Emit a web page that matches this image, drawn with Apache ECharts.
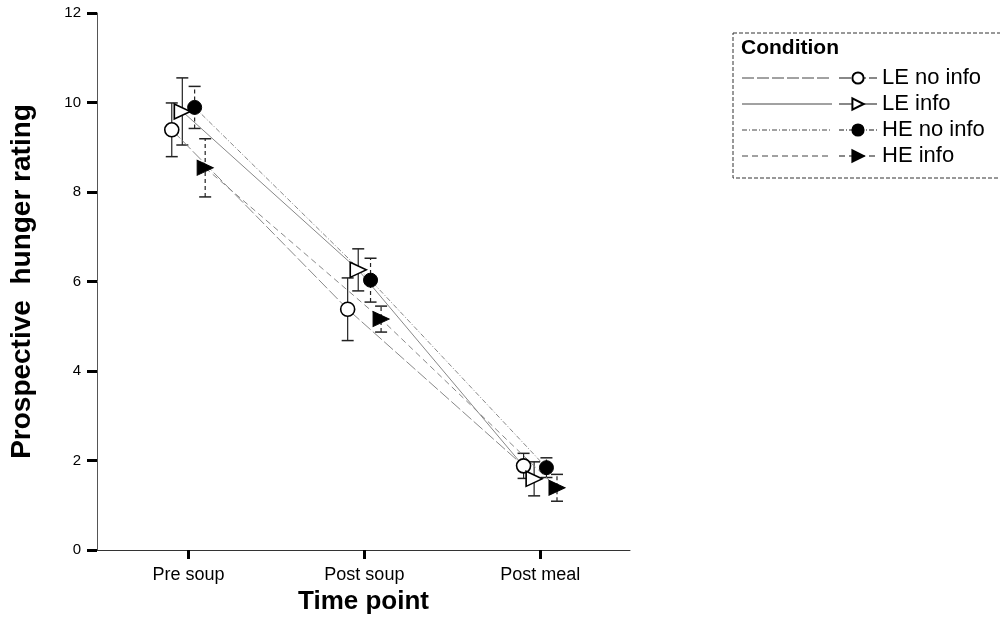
<!DOCTYPE html>
<html>
<head>
<meta charset="utf-8">
<script src="https://cdn.jsdelivr.net/npm/echarts@6/dist/echarts.min.js"></script>
<style>
html,body{margin:0;padding:0;background:#fff;}
#chart{width:1000px;height:640px;}
</style>
</head>
<body>
<div id="chart"></div>
<script>
// ---- data ----
const categories = ['Pre soup', 'Post soup', 'Post meal'];
const seriesNames = ['LE no info', 'LE info', 'HE no info', 'HE info'];
const leNoInfo = [9.39, 5.38, 1.88];
const leNoInfoErr = [0.60, 0.70, 0.28];
const leInfo = [9.80, 6.26, 1.59];
const leInfoErr = [0.75, 0.47, 0.38];
const heNoInfo = [9.89, 6.03, 1.84];
const heNoInfoErr = [0.47, 0.49, 0.22];
const heInfo = [8.54, 5.16, 1.39];
const heInfoErr = [0.65, 0.29, 0.30];
const yTicks = [0, 2, 4, 6, 8, 10, 12];

// ---- styles ----
const means = [leNoInfo, leInfo, heNoInfo, heInfo];
const errs = [leNoInfoErr, leInfoErr, heNoInfoErr, heInfoErr];
const dodge = [-0.095, -0.035, 0.035, 0.095];
const lineTypes = [[12, 3], 'solid', [5, 2, 1, 2], [6, 4]];
const errTypes = ['solid', 'solid', [4, 3], [4, 3]];
const symbols = ['circle', 'triangle', 'circle', 'triangle'];
const filled = [false, false, true, true];
const FONT = 'Liberation Sans, Arial, sans-serif';

const chart = echarts.init(document.getElementById('chart'));
const series = [];

seriesNames.forEach((name, i) => {
  const pts = means[i].map((v, j) => [j + 1 + dodge[i], v]);
  const bars = means[i].map((v, j) => [j + 1 + dodge[i], v - errs[i][j], v + errs[i][j]]);
  series.push({
    type: 'custom',
    name: name + ' err',
    data: bars,
    z: 2,
    silent: true,
    renderItem: function (params, api) {
      const x = api.value(0);
      const lo = api.coord([x, api.value(1)]);
      const hi = api.coord([x, api.value(2)]);
      const cap = 6;
      const st = { stroke: '#222', lineWidth: 1.2, lineDash: errTypes[i] === 'solid' ? null : errTypes[i] };
      return {
        type: 'group',
        children: [
          { type: 'line', shape: { x1: lo[0], y1: lo[1], x2: hi[0], y2: hi[1] }, style: st },
          { type: 'line', shape: { x1: lo[0] - cap, y1: lo[1], x2: lo[0] + cap, y2: lo[1] }, style: { stroke: '#222', lineWidth: 1.5 } },
          { type: 'line', shape: { x1: hi[0] - cap, y1: hi[1], x2: hi[0] + cap, y2: hi[1] }, style: { stroke: '#222', lineWidth: 1.5 } }
        ]
      };
    }
  });
  series.push({
    type: 'line',
    name: name,
    data: pts,
    z: 5,
    symbol: symbols[i],
    symbolSize: symbols[i] === 'circle' ? 14 : [15, 16],
    symbolRotate: symbols[i] === 'triangle' ? -90 : 0,
    showAllSymbol: true,
    lineStyle: { color: '#888', width: 1, type: lineTypes[i] },
    itemStyle: filled[i]
      ? { color: '#000', borderColor: '#000', borderWidth: 1 }
      : { color: '#fff', borderColor: '#000', borderWidth: 1.6 },
    emphasis: { disabled: true }
  });
});

// legend long line samples (decoration)
const legendY = [78, 104, 130, 156];
const legendGraphics = legendY.map((y, i) => ({
  type: 'line',
  shape: { x1: 742, y1: y, x2: 832, y2: y },
  style: { stroke: '#444', lineWidth: 1, lineDash: lineTypes[i] === 'solid' ? null : lineTypes[i] }
}));

chart.setOption({
  animation: false,
  backgroundColor: '#fff',
  grid: { left: 97, right: 370, top: 13, bottom: 90, containLabel: false },
  xAxis: {
    type: 'value',
    min: 0.48,
    max: 3.51,
    name: 'Time point',
    nameLocation: 'middle',
    nameGap: 27,
    nameTextStyle: { fontFamily: FONT, fontWeight: 'bold', fontSize: 26, color: '#000' },
    axisLine: { show: true, lineStyle: { color: '#333', width: 1 } },
    axisTick: { show: true, customValues: [1, 2, 3], length: 9, lineStyle: { color: '#000', width: 3 } },
    axisLabel: {
      customValues: [1, 2, 3],
      formatter: v => categories[Math.round(v) - 1],
      fontFamily: FONT, fontSize: 18, color: '#000', margin: 16
    },
    splitLine: { show: false }
  },
  yAxis: {
    type: 'value',
    min: 0,
    max: 12,
    interval: 2,
    name: 'Prospective  hunger rating',
    nameLocation: 'middle',
    nameGap: 61,
    nameTextStyle: { fontFamily: FONT, fontWeight: 'bold', fontSize: 28, color: '#000' },
    axisLine: { show: true, lineStyle: { color: '#555', width: 1 } },
    axisTick: { show: true, length: 10, lineStyle: { color: '#000', width: 3 } },
    axisLabel: {
      customValues: yTicks,
      fontFamily: FONT, fontSize: 15, color: '#000', margin: 16
    },
    splitLine: { show: false }
  },
  legend: {
    orient: 'vertical',
    left: 838,
    top: 67,
    padding: 0,
    itemWidth: 38,
    itemHeight: 14,
    itemGap: 4,
    selectedMode: false,
    data: seriesNames,
    textStyle: { fontFamily: FONT, fontSize: 22, lineHeight: 22, color: '#000' }
  },
  graphic: [
    {
      type: 'rect',
      shape: { x: 733, y: 33, width: 300, height: 145 },
      style: { fill: 'none', stroke: '#333', lineWidth: 1, lineDash: [4, 2] },
      z: 0
    },
    {
      type: 'text',
      x: 741, y: 48,
      style: { text: 'Condition', font: 'bold 21px ' + FONT, fill: '#000', verticalAlign: 'middle' }
    }
  ].concat(legendGraphics),
  series: series
});
</script>
</body>
</html>
